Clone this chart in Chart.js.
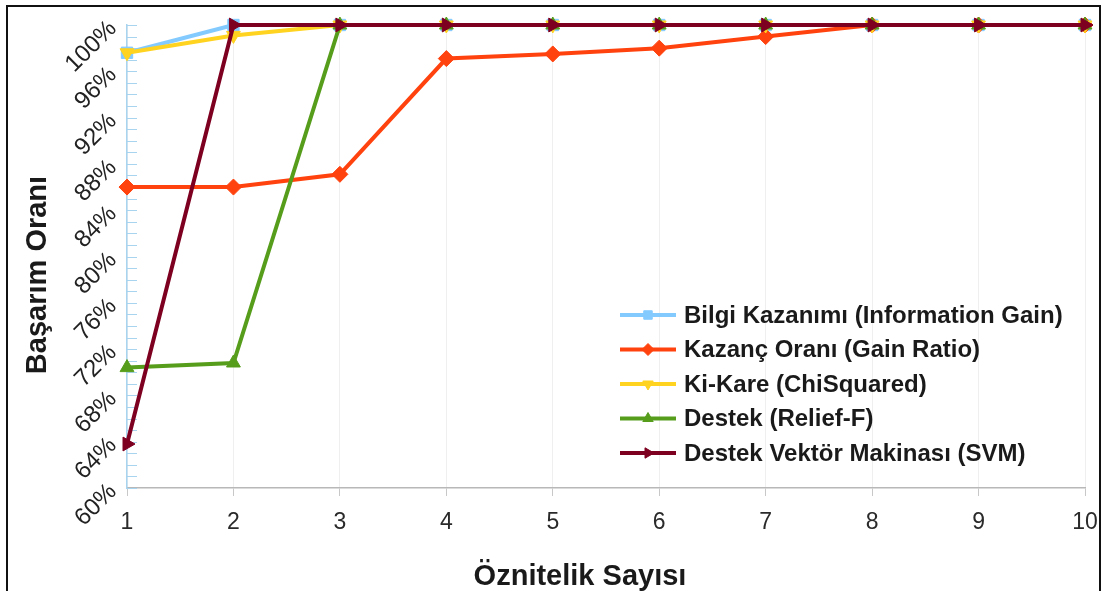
<!DOCTYPE html>
<html>
<head>
<meta charset="utf-8">
<script src="https://cdn.jsdelivr.net/npm/chart.js@4/dist/chart.umd.min.js"></script>
<style>
  html, body { margin: 0; padding: 0; background: #fff; }
  #wrap { width: 1105px; height: 591px; position: relative; }
</style>
</head>
<body>
<div id="wrap"><canvas id="c" width="1105" height="591"></canvas></div>
<script>
// Number of selected features (x axis)
const featureCounts = ['1', '2', '3', '4', '5', '6', '7', '8', '9', '10'];

// Accuracy (%) per feature-selection method
const infoGain   = [97.6, 100, 100, 100, 100, 100, 100, 100, 100, 100];
const gainRatio  = [86.0, 86.0, 87.1, 97.1, 97.5, 98.0, 99.0, 100, 100, 100];
const chiSquared = [97.6, 99.1, 100, 100, 100, 100, 100, 100, 100, 100];
const reliefF    = [70.4, 70.8, 100, 100, 100, 100, 100, 100, 100, 100];
const svm        = [63.8, 100, 100, 100, 100, 100, 100, 100, 100, 100];

const seriesNames = [
  'Bilgi Kazanımı (Information Gain)',
  'Kazanç Oranı (Gain Ratio)',
  'Ki-Kare (ChiSquared)',
  'Destek (Relief-F)',
  'Destek Vektör Makinası (SVM)'
];

// Y axis range and label step (%)
const yMin = 60, yMax = 100, yStep = 4;

const xTitle = 'Öznitelik Sayısı';
const yTitle = 'Başarım Oranı';

const FONT = "'Liberation Sans', Arial, sans-serif";

function series(label, data, color, pointStyle, rotation, order) {
  return {
    label, data,
    borderColor: color,
    backgroundColor: color,
    pointBackgroundColor: color,
    pointBorderColor: color,
    borderWidth: 4,
    pointStyle,
    pointRotation: rotation,
    pointRadius: 8,
    pointBorderWidth: 1,
    tension: 0,
    clip: false,
    order
  };
}

// White page with a dark frame around the drawing
const framePlugin = {
  id: 'frame',
  beforeDraw(chart) {
    const ctx = chart.ctx;
    ctx.save();
    ctx.fillStyle = '#ffffff';
    ctx.fillRect(0, 0, chart.width, chart.height);
    ctx.strokeStyle = '#111111';
    ctx.lineWidth = 2;
    ctx.strokeRect(7, 6, 1093, 620);
    ctx.restore();
  }
};

// Short minor tick marks along the inside of the y axis, one per percent
const minorTicksPlugin = {
  id: 'minorTicks',
  beforeDatasetsDraw(chart) {
    const y = chart.scales.y;
    const ctx = chart.ctx;
    ctx.save();
    ctx.strokeStyle = '#a9d4ef';
    ctx.lineWidth = 1;
    for (let v = yMin; v <= yMax; v += 1) {
      const py = Math.round(y.getPixelForValue(v)) + 0.5;
      ctx.beginPath();
      ctx.moveTo(y.right, py);
      ctx.lineTo(y.right + 10, py);
      ctx.stroke();
    }
    ctx.restore();
  }
};

// Axis titles
const titlesPlugin = {
  id: 'axisTitles',
  afterDraw(chart) {
    const ctx = chart.ctx;
    ctx.save();
    ctx.fillStyle = '#1a1a1a';
    ctx.font = 'bold 29px ' + FONT;
    ctx.textAlign = 'center';
    ctx.textBaseline = 'middle';
    ctx.fillText(xTitle, 580, 577);
    ctx.translate(38, 275);
    ctx.rotate(-Math.PI / 2);
    ctx.fillText(yTitle, 0, 0);
    ctx.restore();
  }
};

// Legend inside the plot: line sample with marker, then the series name
const legendPlugin = {
  id: 'insideLegend',
  afterDraw(chart) {
    const ctx = chart.ctx;
    const x0 = 620, x1 = 676, textX = 684, top = 315, rowH = 34.5;
    ctx.save();
    chart.data.datasets.forEach((ds, i) => {
      const cy = top + i * rowH;
      ctx.strokeStyle = ds.borderColor;
      ctx.lineWidth = 4;
      ctx.beginPath();
      ctx.moveTo(x0, cy);
      ctx.lineTo(x1, cy);
      ctx.stroke();
      ctx.fillStyle = ds.borderColor;
      ctx.strokeStyle = ds.borderColor;
      ctx.lineWidth = 1;
      Chart.helpers.drawPoint(ctx, {
        pointStyle: ds.pointStyle,
        rotation: ds.pointRotation,
        radius: 6,
        borderWidth: 1
      }, (x0 + x1) / 2, cy);
      ctx.fillStyle = '#1a1a1a';
      ctx.font = 'bold 24px ' + FONT;
      ctx.textAlign = 'left';
      ctx.textBaseline = 'middle';
      ctx.fillText(ds.label, textX, cy + 1);
    });
    ctx.restore();
  }
};

new Chart(document.getElementById('c'), {
  type: 'line',
  data: {
    labels: featureCounts,
    datasets: [
      series(seriesNames[0], infoGain,   '#83caff', 'rect',     0,   5),
      series(seriesNames[1], gainRatio,  '#ff420e', 'rectRot',  0,   4),
      series(seriesNames[2], chiSquared, '#ffd320', 'triangle', 180, 3),
      series(seriesNames[3], reliefF,    '#579d1c', 'triangle', 0,   2),
      series(seriesNames[4], svm,        '#7e0021', 'triangle', 90,  1)
    ]
  },
  options: {
    responsive: false,
    animation: false,
    devicePixelRatio: 1,
    layout: { padding: { top: 25, right: 20, left: 0, bottom: 0 } },
    plugins: {
      legend: { display: false },
      tooltip: { enabled: false },
      title: { display: false }
    },
    scales: {
      x: {
        type: 'category',
        offset: false,
        grid: {
          color: '#efefef',
          tickColor: '#c8c8c8',
          tickLength: 8,
          drawOnChartArea: true
        },
        border: { color: '#b8b8b8', width: 1.5 },
        ticks: {
          color: '#2a2a2a',
          font: { family: FONT, size: 23 },
          padding: 13,
          maxRotation: 0,
          autoSkip: false
        },
        afterFit(scale) {
          scale.height = 103;
          scale.paddingLeft = 0;
          scale.paddingRight = 0;
        }
      },
      y: {
        min: yMin,
        max: yMax,
        grid: { display: true, drawOnChartArea: false, drawTicks: false },
        border: { color: '#a9d4ef', width: 1.5 },
        ticks: {
          stepSize: yStep,
          color: '#222222',
          font: { family: FONT, size: 24 },
          padding: 14,
          minRotation: 45,
          maxRotation: 45,
          callback: (v) => v + '%'
        },
        afterFit(scale) {
          scale.width = 127;
          scale.paddingTop = 0;
          scale.paddingBottom = 0;
        }
      }
    }
  },
  plugins: [framePlugin, minorTicksPlugin, titlesPlugin, legendPlugin]
});
</script>
</body>
</html>
